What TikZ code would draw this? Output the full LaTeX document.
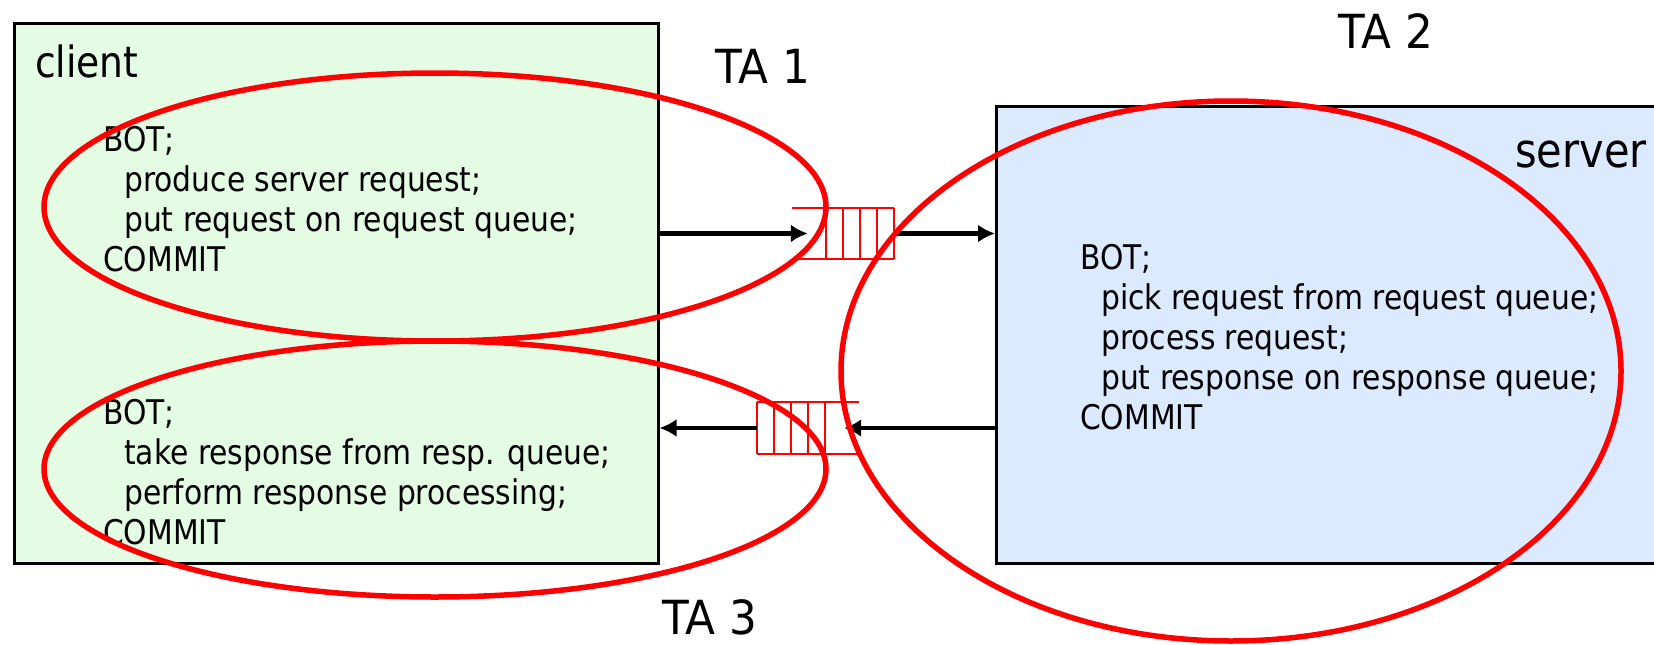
\documentclass[tikz,border=0pt]{standalone}
\usepackage{fontspec}
\setmainfont{DejaVu Sans}[FakeStretch=0.875]
\newfontfamily\tafont{DejaVu Sans}[FakeStretch=0.93]
\usetikzlibrary{arrows.meta}
\definecolor{clientfill}{RGB}{228,252,228}
\definecolor{serverfill}{RGB}{219,234,254}
\definecolor{tared}{RGB}{255,0,0}
\tikzset{
  box/.style={draw=black, line width=2.5pt, inner sep=0pt, anchor=north west},
  boxlabel/.style={inner sep=0pt, font={\fontsize{43}{50}\selectfont}},
  body/.style={inner sep=0pt, anchor=north west, align=left, font={\fontsize{34}{40}\selectfont}},
  talabel/.style={inner sep=0pt, font={\tafont\fontsize{47}{55}\selectfont}},
  qbox/.style={inner sep=0pt, minimum width=102pt, minimum height=51pt},
  qline/.style={draw=tared, line width=2.2pt},
  arr/.style={line width=4.5pt, -{Latex[length=17pt,width=18pt]}},
  taring/.style={draw=tared, line width=5.5pt},
}
\begin{document}
\begin{tikzpicture}[x=1pt,y=-1pt]
\useasboundingbox (0,0) rectangle (1654,645);
\fill[white] (0,0) rectangle (1654,645);

% boxes
\node[box, fill=clientfill, minimum width=644pt, minimum height=540pt] (client) at (13,22) {};
\node[box, fill=serverfill, minimum width=690pt, minimum height=457pt] (server) at (995,105) {};

\node[boxlabel, anchor=base west] (clientlbl) at (35,77) {client};
\node[boxlabel, anchor=base east, font={\fontsize{47.5}{55}\selectfont}] (serverlbl) at (1647,167) {server};

% code blocks
\node[body] (ctop) at (103,126) {BOT;\\\hspace*{21pt}produce server request;\\\hspace*{21pt}put request on request queue;\\COMMIT};
\node[body] (cbot) at (103,399) {BOT;\\\hspace*{21pt}take response from resp. queue;\\\hspace*{21pt}perform response processing;\\COMMIT};
\node[body] (srv) at (1080,244) {BOT;\\\hspace*{21pt}pick request from request queue;\\\hspace*{21pt}process request;\\\hspace*{21pt}put response on response queue;\\COMMIT};

% queues
\node[qbox] (q1) at (843,233.5) {};
\draw[qline] (q1.north west) -- (q1.north east) (q1.south west) -- (q1.south east);
\foreach \i in {0,...,4}
  \draw[qline] ([xshift=-\i*17pt]q1.north east) -- ([xshift=-\i*17pt]q1.south east);

\node[qbox] (q2) at (808,428) {};
\draw[qline] (q2.north west) -- (q2.north east) (q2.south west) -- (q2.south east);
\foreach \i in {0,...,4}
  \draw[qline] ([xshift=\i*17pt]q2.north west) -- ([xshift=\i*17pt]q2.south west);

% arrows
\draw[arr] (client.east |- q1.west) -- ([xshift=16pt]q1.west);
\draw[arr] (q1.east) -- (server.west |- q1.east);
\draw[arr] (server.west |- q2.east) -- ([xshift=-15pt]q2.east);
\draw[arr] (q2.west) -- (client.east |- q2.west);

% transaction rings
\draw[taring] (435,207) ellipse [x radius=391pt, y radius=134pt];
\draw[taring] (435,469) ellipse [x radius=391pt, y radius=128pt];
\draw[taring] (1231,371) ellipse [x radius=390pt, y radius=270pt];

% labels
\node[talabel] (ta1) at (763,66) {TA 1};
\node[talabel] (ta2) at (1386,31) {TA 2};
\node[talabel] (ta3) at (710,617) {TA 3};
\end{tikzpicture}
\end{document}
